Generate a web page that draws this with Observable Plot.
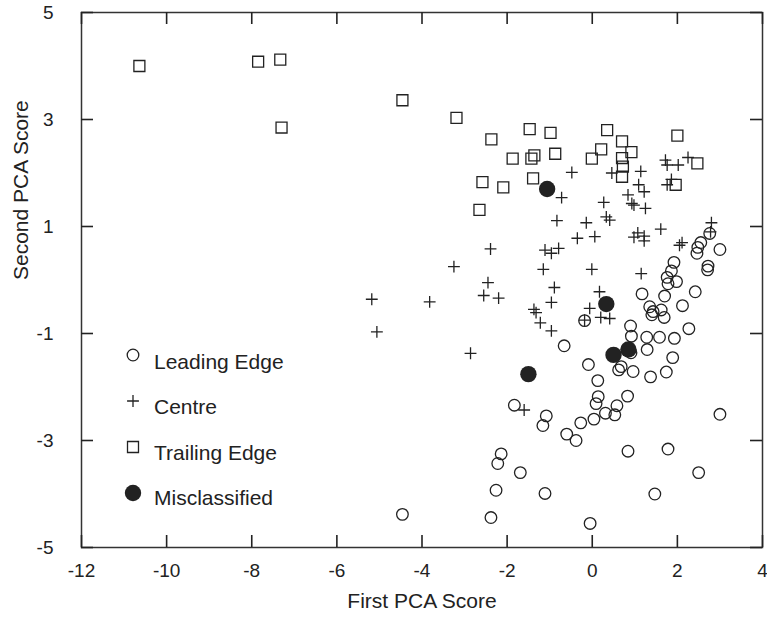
<!DOCTYPE html>
<html><head><meta charset="utf-8">
<script src="https://cdn.jsdelivr.net/npm/d3@7"></script>
<script src="https://cdn.jsdelivr.net/npm/@observablehq/plot@0.6"></script>
<style>
body{margin:0;background:#fff}
#chart{position:relative;width:767px;height:622px}
</style>
</head><body><div id="chart"></div>
<script>
// ---- data (first PCA score, second PCA score) ----
const leadingEdge = [
  [2.76,0.87],[2.55,0.70],[2.48,0.61],[2.46,0.50],[3.0,0.57],
  [1.92,0.33],[1.86,0.17],[1.76,0.05],[1.98,-0.03],[1.78,-0.07],
  [2.72,0.26],[2.71,0.19],
  [2.42,-0.22],[1.17,-0.26],[1.70,-0.30],[2.12,-0.48],[1.35,-0.50],
  [1.43,-0.59],[1.40,-0.65],[1.62,-0.56],[1.69,-0.70],
  [2.27,-0.91],[0.90,-0.86],[0.92,-1.05],[1.28,-1.07],[1.58,-1.07],[1.93,-1.09],
  [-0.18,-0.76],[-0.66,-1.23],
  [1.29,-1.30],[0.91,-1.36],[1.89,-1.45],
  [-0.09,-1.58],[0.68,-1.62],[0.62,-1.68],[0.96,-1.71],[1.37,-1.81],[1.74,-1.72],
  [0.13,-1.88],[0.14,-2.18],[0.09,-2.31],[0.83,-2.17],
  [0.58,-2.35],[0.53,-2.52],[0.31,-2.49],[0.04,-2.60],[-0.27,-2.67],
  [-0.60,-2.88],[-0.38,-3.00],
  [3.0,-2.51],
  [-1.83,-2.34],[-1.08,-2.54],[-1.16,-2.72],
  [-2.14,-3.25],[-2.22,-3.43],[-1.69,-3.60],[-2.26,-3.93],[-1.11,-3.99],
  [-2.38,-4.44],[-0.05,-4.55],[-4.46,-4.38],
  [0.84,-3.20],[1.78,-3.16],[2.50,-3.60],[1.47,-4.0]
];
const centre = [
  [-5.18,-0.36],[-5.06,-0.97],[-3.82,-0.41],[-3.25,0.25],[-2.86,-1.37],
  [-2.39,0.58],[-2.45,-0.05],[-2.55,-0.29],[-2.20,-0.34],
  [-1.60,-2.43],
  [-1.37,-0.55],[-1.32,-0.61],[-1.22,-0.80],[-0.96,-0.95],[-0.96,-0.42],[-0.89,-0.14],
  [-1.15,0.20],[-1.11,0.56],[-0.96,0.50],[-0.79,0.59],[-0.83,1.11],[-0.72,1.54],
  [-0.48,2.01],[-0.35,0.78],[-0.14,1.07],[0.06,0.81],[-0.01,0.20],[0.17,-0.22],
  [-0.06,-0.53],[0.20,-0.70],[0.41,-0.72],[-0.18,-0.75],
  [0.27,1.45],[0.33,1.18],[0.41,1.12],[0.46,2.00],
  [0.84,1.59],[0.93,1.43],[0.98,1.40],[1.25,1.34],[1.09,1.78],[1.22,1.65],[1.14,2.03],
  [0.98,0.80],[1.07,0.88],[1.22,0.82],[1.22,0.73],[1.61,0.95],[1.15,0.12],
  [1.72,2.24],[1.76,2.15],[2.02,2.15],[2.25,2.29],[1.86,1.88],[1.76,1.78],
  [2.05,0.65],[2.11,0.70],[2.80,1.07],[2.78,0.90]
];
const trailingEdge = [
  [-10.64,4.00],[-7.85,4.08],[-7.33,4.12],[-7.30,2.85],[-4.46,3.36],[-3.19,3.03],
  [-2.37,2.63],[-1.47,2.82],[-0.98,2.75],[0.35,2.80],[0.70,2.59],[2.00,2.70],
  [-1.87,2.27],[-1.43,2.27],[-1.36,2.33],[-0.87,2.36],[-0.01,2.27],[0.21,2.44],
  [0.92,2.39],[0.70,2.28],[0.72,2.12],[0.70,1.93],[2.47,2.18],[1.96,1.78],
  [-2.58,1.83],[-2.09,1.73],[-1.39,1.90],[-2.65,1.31]
];
const misclassified = [
  [-1.06,1.70],[0.33,-0.45],[0.85,-1.30],[0.50,-1.40],[-1.50,-1.76]
];
const xTicks = [-12,-10,-8,-6,-4,-2,0,2,4];
const yTicks = [-5,-3,-1,1,3,5];
const legendLabels = ["Leading Edge","Centre","Trailing Edge","Misclassified"];
const xTitle = "First PCA Score";
const yTitle = "Second PCA Score";

// ---- layout & styles ----
const W = 767, H = 622, mL = 81, mR = 5, mT = 12, mB = 75;
const xDomain = [-12, 4], yDomain = [-5, 5];
const frameW = W - mL - mR, frameH = H - mT - mB, tickLen = 12;
const ink = "#222";
const font = "Liberation Sans, Arial, Helvetica, sans-serif";
const symbolStyles = [
  {symbol:"circle", r:5.8, stroke:ink, fill:"none", strokeWidth:1.3},
  {symbol:"plus", r:3.9, stroke:ink, fill:"none", strokeWidth:1.3},
  {symbol:"square", r:6.2, stroke:ink, fill:"none", strokeWidth:1.3},
  {symbol:"circle", r:8.2, stroke:"none", fill:ink}
];
const series = [leadingEdge, centre, trailingEdge, misclassified];

const legendMarks = legendLabels.flatMap((lab, i) => [
  Plot.dot([lab], {frameAnchor:"top-left", dx:51.5, dy:342.5 + i*46, ...symbolStyles[i]}),
  Plot.text([lab], {text:d=>d, frameAnchor:"top-left", lineAnchor:"middle", dx:72.5, dy:350 + i*45.2,
    textAnchor:"start", fontSize:21, fill:ink, fontFamily:font})
]);

const plot = Plot.plot({
  width:W, height:H,
  marginLeft:mL, marginRight:mR, marginTop:mT, marginBottom:mB,
  x:{domain:xDomain},
  y:{domain:yDomain},
  marks:[
    Plot.axisX(xTicks, {anchor:"bottom", tickSize:0, tickPadding:16, tickFormat:d=>String(d),
      fontSize:19, fill:ink, label:null, fontFamily:font}),
    Plot.axisY(yTicks, {anchor:"left", tickSize:0, tickPadding:28, tickFormat:d=>String(d),
      fontSize:19, fill:ink, label:null, fontFamily:font}),
    Plot.frame({stroke:"#333", strokeWidth:1.5}),
    ...series.map((s, i) => Plot.dot(s, {x:d=>d[0], y:d=>d[1], ...symbolStyles[i]})),
    Plot.text([xTitle], {text:d=>d, frameAnchor:"bottom", dy:60, fontSize:21, fill:ink, fontFamily:font}),
    Plot.text([yTitle], {text:d=>d, frameAnchor:"left", dx:-60, rotate:-90, fontSize:21, fill:ink, fontFamily:font}),
    ...legendMarks,
    // inward ticks on all four sides (drawn last, on top)
    Plot.ruleX(xTicks, {x:d=>d, insetTop:frameH - tickLen, stroke:"#222", strokeWidth:1.6}),
    Plot.ruleX(xTicks, {x:d=>d, insetBottom:frameH - tickLen, stroke:"#222", strokeWidth:1.6}),
    Plot.ruleY(yTicks, {y:d=>d, insetRight:frameW - tickLen, stroke:"#222", strokeWidth:1.6}),
    Plot.ruleY(yTicks, {y:d=>d, insetLeft:frameW - tickLen, stroke:"#222", strokeWidth:1.6})
  ]
});
plot.style.background = "#fff";
document.getElementById("chart").appendChild(plot);
</script>
</body></html>
